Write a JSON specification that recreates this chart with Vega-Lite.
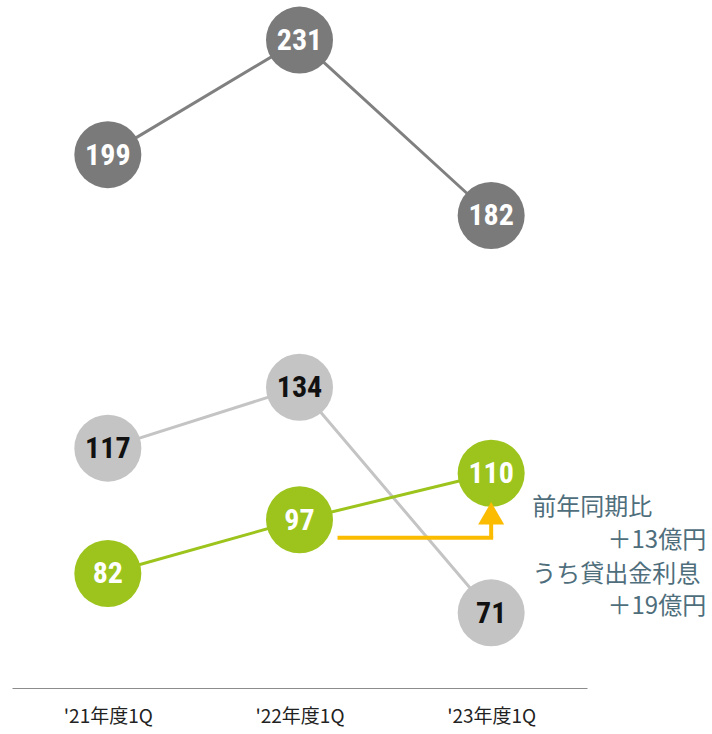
{
  "$schema": "https://vega.github.io/schema/vega-lite/v6.json",
  "width": 575,
  "height": 688,
  "autosize": {"type": "none"},
  "padding": {"left": 12, "top": 0, "right": 125, "bottom": 46},
  "background": "white",
  "config": {"view": {"stroke": null}},
  "datasets": {
    "main": [
      {"series": "s1", "period": "'21年度1Q", "value": 199},
      {"series": "s1", "period": "'22年度1Q", "value": 231},
      {"series": "s1", "period": "'23年度1Q", "value": 182},
      {"series": "s2", "period": "'21年度1Q", "value": 117},
      {"series": "s2", "period": "'22年度1Q", "value": 134},
      {"series": "s2", "period": "'23年度1Q", "value": 71},
      {"series": "s3", "period": "'21年度1Q", "value": 82},
      {"series": "s3", "period": "'22年度1Q", "value": 97},
      {"series": "s3", "period": "'23年度1Q", "value": 110}
    ]
  },
  "encoding": {
    "x": {
      "field": "period", "type": "nominal",
      "scale": {"type": "point", "padding": 0.5, "domain": ["'21年度1Q", "'22年度1Q", "'23年度1Q"]},
      "axis": {"title": null, "labelAngle": 0, "ticks": false, "grid": false, "domainColor": "#8c8c8c", "domainWidth": 1.2, "labelPadding": 19, "labelFontSize": 19, "labelFont": "Noto Sans CJK JP", "labelColor": "#222222"}
    }
  },
  "layer": [
    {
      "data": {"name": "main"},
      "mark": {"type": "line", "strokeWidth": 3},
      "encoding": {
        "y": {"field": "value", "type": "quantitative", "scale": {"domain": [50, 242.2], "nice": false, "zero": false}, "axis": null},
        "color": {"field": "series", "type": "nominal", "scale": {"domain": ["s1", "s2", "s3"], "range": ["#808080", "#c4c4c4", "#9cc41c"]}, "legend": null},
        "detail": {"field": "series"}
      }
    },
    {
      "data": {"values": [{"from": "'22年度1Q", "to": "'23年度1Q", "value": 92}]},
      "mark": {"type": "rule", "color": "#fbbc00", "strokeWidth": 4, "xOffset": 38, "x2Offset": 2},
      "encoding": {
        "x": {"field": "from", "type": "nominal"},
        "x2": {"field": "to"},
        "y": {"field": "value", "type": "quantitative"}
      }
    },
    {
      "data": {"values": [{"period": "'23年度1Q", "value": 92, "value2": 96.5}]},
      "mark": {"type": "rule", "color": "#fbbc00", "strokeWidth": 4},
      "encoding": {
        "y": {"field": "value", "type": "quantitative"},
        "y2": {"field": "value2"}
      }
    },
    {
      "data": {"name": "main"},
      "mark": {"type": "point", "shape": "circle", "filled": true, "opacity": 1, "size": 4489},
      "encoding": {
        "y": {"field": "value", "type": "quantitative"},
        "color": {"field": "series", "type": "nominal", "scale": {"domain": ["s1", "s2", "s3"], "range": ["#7a7a7a", "#c4c4c4", "#9cc41c"]}, "legend": null}
      }
    },
    {
      "data": {"values": [{"period": "'23年度1Q", "value": 98.8}]},
      "mark": {"type": "point", "shape": "triangle-up", "filled": true, "opacity": 1, "size": 676, "color": "#fbbc00"},
      "encoding": {
        "y": {"field": "value", "type": "quantitative"}
      }
    },
    {
      "data": {"name": "main"},
      "mark": {"type": "text", "font": "Liberation Sans Narrow, Roboto Condensed, DejaVu Sans Condensed, sans-serif", "fontWeight": "bold", "fontSize": 30, "baseline": "middle", "dy": 1},
      "encoding": {
        "y": {"field": "value", "type": "quantitative"},
        "text": {"field": "value", "type": "quantitative"},
        "color": {"field": "series", "type": "nominal", "scale": {"domain": ["s1", "s2", "s3"], "range": ["#ffffff", "#111111", "#ffffff"]}, "legend": null}
      }
    },
    {
      "data": {"values": [
        {"period": "'23年度1Q", "value": 100.3, "label": "前年同期比"},
        {"period": "'23年度1Q", "value": 81.7, "label": "うち貸出金利息"}
      ]},
      "mark": {"type": "text", "font": "Noto Sans CJK JP", "fontSize": 24, "align": "left", "baseline": "middle", "dx": 41, "color": "#4f6e7c"},
      "encoding": {
        "y": {"field": "value", "type": "quantitative"},
        "text": {"field": "label"}
      }
    },
    {
      "data": {"values": [
        {"period": "'23年度1Q", "value": 91.1, "label": "＋13億円"},
        {"period": "'23年度1Q", "value": 72.7, "label": "＋19億円"}
      ]},
      "mark": {"type": "text", "font": "Noto Sans CJK JP", "fontSize": 24, "align": "right", "baseline": "middle", "dx": 215, "color": "#4f6e7c"},
      "encoding": {
        "y": {"field": "value", "type": "quantitative"},
        "text": {"field": "label"}
      }
    }
  ],
  "resolve": {"scale": {"color": "independent"}}
}
